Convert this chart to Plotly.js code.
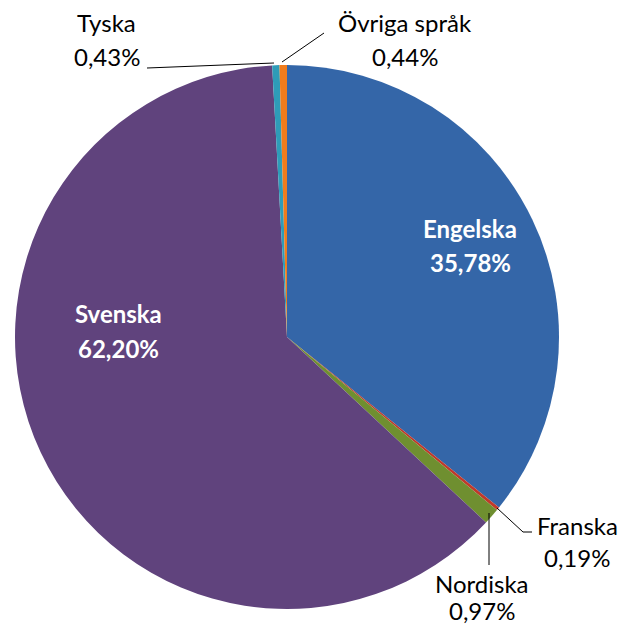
<!DOCTYPE html>
<html>
<head>
<meta charset="utf-8">
<script src="https://cdn.plot.ly/plotly-3.0.1.min.js"></script>
<style>html,body{margin:0;padding:0;background:#fff;}#chart{width:621px;height:625px;}</style>
</head>
<body>
<div id="chart"></div>
<script>
// Data
const languages = ['Engelska', 'Franska', 'Nordiska', 'Svenska', 'Tyska', 'Övriga språk'];
const shares = [35.78, 0.19, 0.97, 62.20, 0.43, 0.44];
const sliceColors = ['#3466a8', '#c0392b', '#6f8f30', '#60437d', '#2e9cb8', '#f07c1c'];

const W = 621, H = 625;
const px = x => x / W;
const py = y => 1 - y / H;

// label layout (pixel centres of name line / value line) and style
const labelLayout = [
  {x: 470, y1: 228, y2: 262, color: '#ffffff', bold: true},   // Engelska
  {x: 577, y1: 525, y2: 557, color: '#000000', bold: false},  // Franska
  {x: 482, y1: 583, y2: 610, color: '#000000', bold: false},  // Nordiska
  {x: 118, y1: 313, y2: 348, color: '#ffffff', bold: true},   // Svenska
  {x: 107, y1: 23, y2: 57, color: '#000000', bold: false},    // Tyska
  {x: 405, y1: 23, y2: 57, color: '#000000', bold: false}     // Övriga språk
];

const fmt = v => v.toFixed(2).replace('.', ',') + '%';

const annotations = [];
languages.forEach((name, i) => {
  const L = labelLayout[i];
  const font = {family: 'Lato, "Open Sans", sans-serif', size: 24, color: L.color, weight: L.bold ? 'bold' : 'normal'};
  annotations.push({xref: 'paper', yref: 'paper', x: px(L.x), y: py(L.y1), text: L.bold ? '<b>' + name + '</b>' : name,
    showarrow: false, xanchor: 'center', yanchor: 'middle', font: font});
  annotations.push({xref: 'paper', yref: 'paper', x: px(L.x), y: py(L.y2), text: L.bold ? '<b>' + fmt(shares[i]) + '</b>' : fmt(shares[i]),
    showarrow: false, xanchor: 'center', yanchor: 'middle', font: font});
});

// leader lines (paper coords)
const leaders = [
  [[147, 68], [274, 63]],                 // Tyska
  [[282, 62], [324, 33]],                 // Övriga
  [[497, 508], [523, 532], [532, 532]],   // Franska
  [[489, 513], [489, 565]]                // Nordiska
];
const shapes = leaders.map(pts => ({
  type: 'path', xref: 'paper', yref: 'paper',
  path: pts.map((p, k) => (k ? 'L' : 'M') + px(p[0]) + ',' + py(p[1])).join(' '),
  line: {color: '#000000', width: 1}
}));

const trace = {
  type: 'pie',
  labels: languages,
  values: shares,
  sort: false,
  direction: 'clockwise',
  rotation: 0,
  textinfo: 'none',
  hoverinfo: 'none',
  marker: {colors: sliceColors, line: {width: 0}},
  domain: {x: [px(15), px(559)], y: [py(609), py(65)]},
  showlegend: false
};

const layout = {
  width: W, height: H,
  margin: {l: 0, r: 0, t: 0, b: 0},
  paper_bgcolor: '#ffffff',
  showlegend: false,
  annotations: annotations,
  shapes: shapes
};

Plotly.newPlot('chart', [trace], layout, {staticPlot: true, displayModeBar: false});
</script>
</body>
</html>
